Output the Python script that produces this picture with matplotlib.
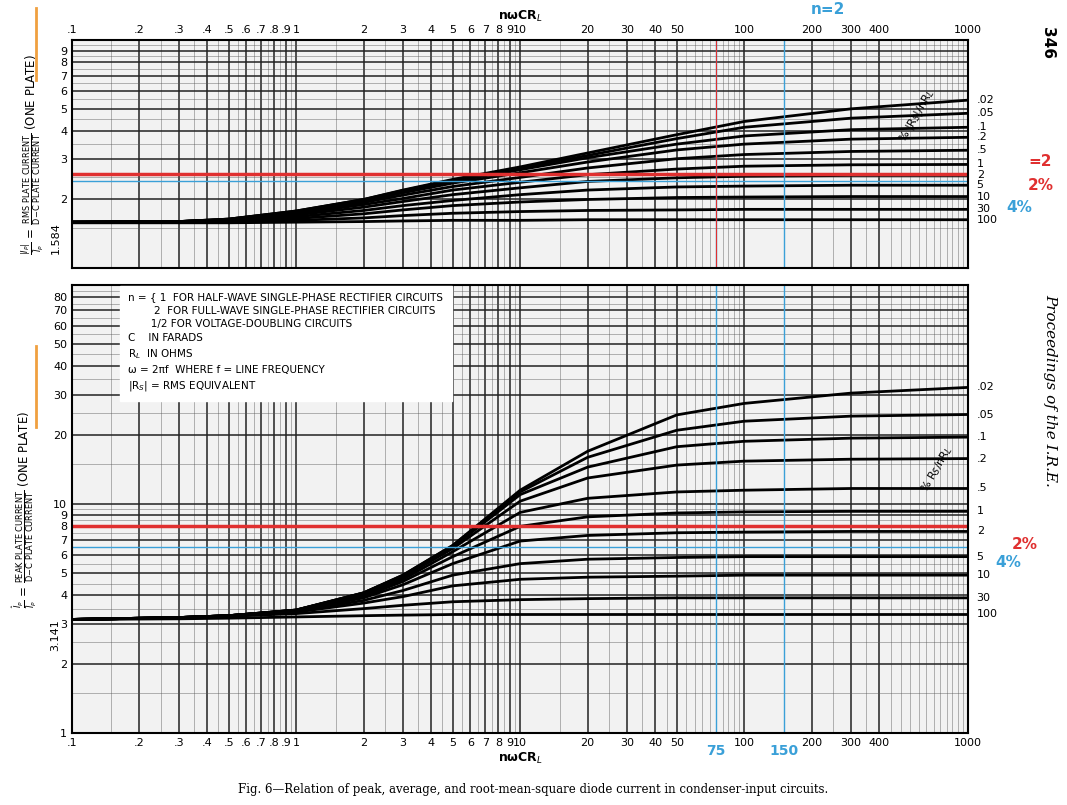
import matplotlib
matplotlib.use("Agg")
import matplotlib.pyplot as plt
from matplotlib.ticker import FixedLocator, NullFormatter, LogLocator

x = [0.1, 0.3, 0.5, 1, 2, 3, 5, 10, 20, 50, 100, 300, 1000]
labels = [".02", ".05", ".1", ".2", ".5", "1", "2", "5", "10", "30", "100"]

rms = [
    [1.59,1.60,1.64,1.78,2.00,2.20,2.45,2.78,3.20,3.85,4.40,5.00,5.46],
    [1.59,1.60,1.64,1.78,2.00,2.19,2.43,2.75,3.12,3.70,4.15,4.55,4.78],
    [1.59,1.60,1.64,1.77,1.99,2.17,2.40,2.70,3.05,3.50,3.80,4.05,4.15],
    [1.59,1.60,1.63,1.76,1.97,2.14,2.36,2.62,2.92,3.30,3.50,3.68,3.75],
    [1.59,1.60,1.63,1.75,1.94,2.09,2.28,2.50,2.75,3.02,3.15,3.25,3.29],
    [1.59,1.60,1.62,1.73,1.90,2.02,2.20,2.38,2.57,2.72,2.80,2.84,2.85],
    [1.59,1.60,1.62,1.71,1.85,1.96,2.10,2.25,2.40,2.49,2.53,2.55,2.55],
    [1.59,1.59,1.61,1.68,1.79,1.88,1.98,2.10,2.20,2.27,2.29,2.31,2.31],
    [1.59,1.59,1.60,1.65,1.73,1.80,1.88,1.95,2.00,2.04,2.05,2.06,2.06],
    [1.59,1.59,1.59,1.62,1.66,1.70,1.74,1.77,1.79,1.80,1.81,1.81,1.81],
    [1.58,1.58,1.58,1.59,1.60,1.61,1.62,1.62,1.63,1.63,1.63,1.63,1.63],
]
peak = [
    [3.14,3.20,3.26,3.45,4.10,4.90,6.60,11.5,17.0,24.5,27.5,30.5,32.3],
    [3.14,3.20,3.26,3.45,4.10,4.90,6.60,11.3,16.0,21.0,23.0,24.2,24.6],
    [3.14,3.20,3.26,3.45,4.10,4.85,6.50,11.0,14.5,17.8,18.8,19.4,19.6],
    [3.14,3.20,3.26,3.45,4.05,4.80,6.40,10.3,13.0,14.8,15.4,15.7,15.8],
    [3.14,3.20,3.26,3.44,4.00,4.70,6.20,9.20,10.6,11.3,11.5,11.7,11.7],
    [3.14,3.20,3.26,3.43,3.95,4.60,5.90,8.00,8.80,9.15,9.25,9.30,9.30],
    [3.14,3.20,3.26,3.42,3.90,4.45,5.50,6.90,7.30,7.50,7.55,7.60,7.60],
    [3.14,3.20,3.26,3.40,3.80,4.20,4.90,5.50,5.75,5.85,5.90,5.90,5.90],
    [3.14,3.20,3.25,3.38,3.70,3.95,4.40,4.70,4.80,4.85,4.90,4.90,4.90],
    [3.14,3.19,3.24,3.33,3.50,3.62,3.75,3.83,3.87,3.90,3.90,3.90,3.90],
    [3.14,3.16,3.18,3.22,3.26,3.28,3.30,3.30,3.30,3.30,3.30,3.30,3.30],
]
xticks = [0.1,0.2,0.3,0.4,0.5,0.6,0.7,0.8,0.9,1,2,3,4,5,6,7,8,9,10,20,30,40,50,100,200,300,400,1000]
xticklabels = [".1",".2",".3",".4",".5",".6",".7",".8",".9","1","2","3","4","5","6","7","8","9","10","20","30","40","50","100","200","300","400","1000"]
top_yticks = [2,3,4,5,6,7,8,9]
top_ylabels = ["2","3","4","5","6","7","8","9"]
top_special = 1.584
bot_yticks = [1,2,3,4,5,6,7,8,9,10,20,30,40,50,60,70,80]
bot_ylabels = ["1","2","3","4","5","6","7","8","9","10","20","30","40","50","60","70","80"]
bot_special = 3.141
red_top, blue_top = 2.6, 2.42
red_bot, blue_bot = 8.0, 6.5
vlines = [75, 150]

fig = plt.figure(figsize=(10.67, 8.05), dpi=100)
ax1 = fig.add_axes([0.0675, 0.667, 0.84, 0.283])
ax2 = fig.add_axes([0.0675, 0.089, 0.84, 0.5565])

def grid(ax):
    ax.set_xscale("log"); ax.set_yscale("log")
    ax.set_xlim(0.1, 1000)
    ax.xaxis.set_minor_locator(LogLocator(base=10, subs=[i/10 for i in range(10, 100, 5)]))
    ax.yaxis.set_minor_locator(LogLocator(base=10, subs=[i/10 for i in range(10, 100, 5)]))
    ax.xaxis.set_minor_formatter(NullFormatter()); ax.yaxis.set_minor_formatter(NullFormatter())
    ax.grid(which="major", color="#222222", lw=1.1)
    ax.grid(which="minor", color="#555555", lw=0.5, alpha=0.6)
    ax.set_facecolor("#f2f2f2")
    for s in ax.spines.values():
        s.set_linewidth(1.5)
    ax.tick_params(which="both", length=0, labelsize=8)

for ax, data, yt, yl, ylim, sp in [(ax1, rms, top_yticks, top_ylabels, (1, 10), top_special),
                                  (ax2, peak, bot_yticks, bot_ylabels, (1, 90), bot_special)]:
    grid(ax)
    ax.set_ylim(*ylim)
    ax.yaxis.set_major_locator(FixedLocator(yt))
    ax.set_yticklabels(yl)
    ax.set_xticks(xticks)
    ax.set_xticklabels(xticklabels)
    for vals, lab in zip(data, labels):
        ax.plot(x, vals, color="black", lw=2)
        ax.annotate(lab, (1000, vals[-1]), xytext=(6, 0), textcoords="offset points",
                    fontsize=8, va="center", annotation_clip=False)
    ax.annotate(f"{sp}", (0.1, sp), xytext=(-12, 0), textcoords="offset points",
                rotation=90, fontsize=8, ha="center", va="top", annotation_clip=False)
    ax.set_axisbelow(True)

ax1.xaxis.tick_top()
ax1.set_xlabel("nωCR$_L$", fontsize=9, fontweight="bold")
ax1.xaxis.set_label_position("top")
ax2.set_xlabel("nωCR$_L$", fontsize=9, fontweight="bold")
ax2.xaxis.set_label_coords(0.5, -0.04)

ax1.set_ylabel(r"$\frac{|I_P|}{\bar{I}_P}$ = $\frac{\mathrm{RMS\ PLATE\ CURRENT}}{\mathrm{D\!-\!C\ PLATE\ CURRENT}}$ (ONE PLATE)", fontsize=8.5, labelpad=10)
ax2.set_ylabel(r"$\frac{\hat{I}_P}{\bar{I}_P}$ = $\frac{\mathrm{PEAK\ PLATE\ CURRENT}}{\mathrm{D\!-\!C\ PLATE\ CURRENT}}$ (ONE PLATE)", fontsize=8.5, labelpad=10)
fig.add_artist(plt.Line2D([0.034, 0.034], [0.90, 0.99], color="#f0a040", lw=2))
fig.add_artist(plt.Line2D([0.034, 0.034], [0.47, 0.57], color="#f0a040", lw=2))

# annotations
ax1.axhline(red_top, color="#e03030", lw=2.5)
ax1.axhline(blue_top, color="#3aa0d8", lw=1)
ax2.axhline(red_bot, color="#e03030", lw=2.5)
ax2.axhline(blue_bot, color="#3aa0d8", lw=1)
for ax in (ax1, ax2):
    ax.axvline(vlines[0], color="#3aa0d8", lw=1)
    ax.axvline(vlines[1], color="#3aa0d8", lw=1)
ax1.axvline(vlines[0], color="#e03030", lw=0.8)
ax2.text(vlines[0], 0.9, "75", color="#3aa0d8", ha="center", va="top", fontsize=10, fontweight="bold")
ax2.text(vlines[1], 0.9, "150", color="#3aa0d8", ha="center", va="top", fontsize=10, fontweight="bold")
fig.text(0.76, 0.982, "n=2", color="#3aa0d8", fontsize=11, fontweight="bold")
fig.text(0.975, 0.80, "=2", color="#e03030", fontsize=11, fontweight="bold", ha="center", va="center")
fig.text(0.975, 0.77, "2%", color="#e03030", fontsize=11, fontweight="bold", ha="center", va="center")
fig.text(0.955, 0.742, "4%", color="#3aa0d8", fontsize=11, fontweight="bold", ha="center", va="center")
fig.text(0.96, 0.323, "2%", color="#e03030", fontsize=11, fontweight="bold", ha="center", va="center")
fig.text(0.945, 0.301, "4%", color="#3aa0d8", fontsize=11, fontweight="bold", ha="center", va="center")
fig.text(0.84, 0.825, "% |R$_S$|/nR$_L$", rotation=60, fontsize=8)
fig.text(0.86, 0.39, "% R$_S$/nR$_L$", rotation=60, fontsize=8)
fig.text(0.975, 0.93, "346", rotation=-90, fontsize=11, fontweight="bold")
fig.text(0.978, 0.635, "Proceedings of the I.R.E.", rotation=-90, fontsize=11, style="italic",
         family="DejaVu Serif", va="top")

box = ("n = { 1  FOR HALF-WAVE SINGLE-PHASE RECTIFIER CIRCUITS\n"
       "        2  FOR FULL-WAVE SINGLE-PHASE RECTIFIER CIRCUITS\n"
       "       1/2 FOR VOLTAGE-DOUBLING CIRCUITS\n"
       "C    IN FARADS\n"
       "R$_L$  IN OHMS\n"
       "ω = 2πf  WHERE f = LINE FREQUENCY\n"
       "|R$_S$| = RMS EQUIVALENT")
ax2.text(0.063, 0.985, box, transform=ax2.transAxes, fontsize=7.5, va="top", linespacing=1.45,
         bbox=dict(facecolor="white", edgecolor="white", pad=6))
fig.text(0.5, 0.015, "Fig. 6—Relation of peak, average, and root-mean-square diode current in condenser-input circuits.",
         ha="center", fontsize=8.5, family="DejaVu Serif")
fig.savefig("out.png", dpi=100)
